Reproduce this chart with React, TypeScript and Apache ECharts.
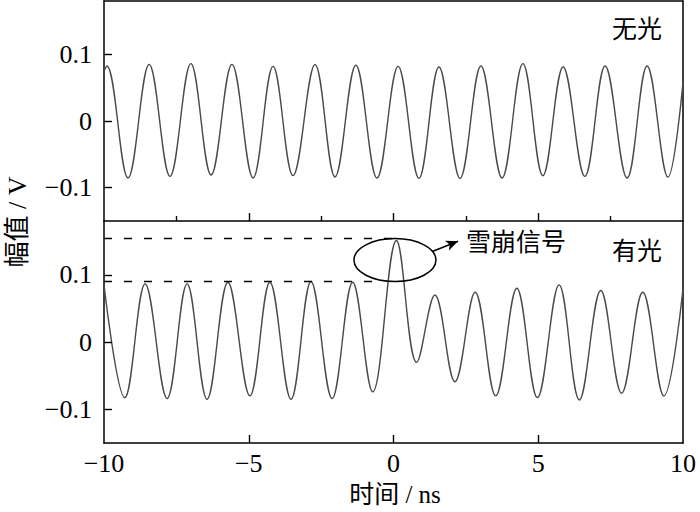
import React, { useEffect, useRef } from 'react';
import * as echarts from 'echarts';

// ---- data ----
const xTickValues = [-10, -5, 0, 5, 10];
const xMajorInner = [-5, 0, 5];
const xMinorInner = [-7.5, -2.5, 2.5, 7.5];
const yTickValues = [-0.1, 0, 0.1];

// 无光 panel: extrema of the waveform (time in ns, amplitude in V)
const topTimes = [-10, -9.9, -9.17, -8.44, -7.72, -7.0, -6.3, -5.58, -4.85, -4.16, -3.47, -2.71, -2.02, -1.3, -0.57, 0.16, 0.88, 1.57, 2.3, 3.02, 3.75, 4.47, 5.16, 5.86, 6.61, 7.31, 8.07, 8.76, 9.48, 10];
const topValues = [0.075, 0.0825, -0.0855, 0.085, -0.083, 0.086, -0.081, 0.085, -0.0855, 0.082, -0.082, 0.0846, -0.084, 0.0836, -0.0855, 0.082, -0.086, 0.081, -0.086, 0.0825, -0.0855, 0.086, -0.082, 0.081, -0.083, 0.0825, -0.0855, 0.0825, -0.084, 0.058];

// 有光 panel: extrema of the waveform, with the avalanche spike near 0 ns
const bottomTimes = [-10, -9.28, -8.58, -7.82, -7.13, -6.44, -5.72, -4.96, -4.27, -3.54, -2.85, -2.12, -1.41, -0.72, 0.1, 0.8, 1.43, 2.12, 2.82, 3.53, 4.26, 4.97, 5.72, 6.42, 7.16, 7.88, 8.61, 9.34, 10];
const bottomValues = [0.085, -0.0826, 0.0866, -0.084, 0.0866, -0.085, 0.089, -0.08, 0.089, -0.085, 0.09, -0.084, 0.089, -0.074, 0.151, -0.03, 0.07, -0.059, 0.074, -0.08, 0.08, -0.0826, 0.085, -0.086, 0.0766, -0.076, 0.074, -0.08, 0.079];

// annotation anchors (data coordinates)
const spikeLevel = 0.155;
const normalLevel = 0.09;
const upperDashEnd = 0.1;
const lowerDashEnd = -0.6;
const ellipseCenter = [0.05, 0.122];
const arrowFrom = [1.36, 0.135];
const arrowTo = [2.23, 0.15];

const xRange = [-10, 10];
const yRange = [-0.15, 0.18];

const SERIF = "'Liberation Serif', 'Noto Sans CJK SC', serif";
const CJK = "'Noto Sans CJK SC', sans-serif";

const fmt = (v: number) => (v < 0 ? '\u2212' + Math.abs(v) : String(v));

const MAJOR = 8;
const MINOR = 5;

export default function App() {
  const ref = useRef<HTMLDivElement>(null);

  useEffect(() => {
    const chart = echarts.init(ref.current!, null, { renderer: 'svg' });

    const topData = topTimes.map((t, i) => [t, topValues[i]]);
    const bottomData = bottomTimes.map((t, i) => [t, bottomValues[i]]);

    // tick marks as markLine pieces: start at the axis edge, end a few pixels inside
    const pxPerV = 222 / (yRange[1] - yRange[0]);
    const pxPerNs = 579 / (xRange[1] - xRange[0]);
    const xTick = (v: number, len: number) => [
      { coord: [v, yRange[0]] },
      { coord: [v, yRange[0] + len / pxPerV] },
    ];
    const yTick = (v: number) => [
      { coord: [xRange[0], v] },
      { coord: [xRange[0] + MAJOR / pxPerNs, v] },
    ];
    const ticksTop = [
      ...xMajorInner.map((v) => xTick(v, MAJOR)),
      ...xMinorInner.map((v) => xTick(v, MINOR)),
      ...yTickValues.map((v) => yTick(v)),
    ];
    const ticksBottom = [
      ...xMajorInner.map((v) => xTick(v, MAJOR)),
      ...yTickValues.map((v) => yTick(v)),
    ];
    const tickMarkLine = (data: any[]) => ({
      silent: true,
      symbol: ['none', 'none'],
      label: { show: false },
      emphasis: { disabled: true },
      lineStyle: { type: 'solid', color: '#000', width: 1.4 },
      data,
    });

    const lineStyle = { color: '#000', width: 1.5 };

    const yAxisBase = (gridIndex: number) => ({
      type: 'value',
      gridIndex,
      position: 'left',
      min: yRange[0],
      max: yRange[1],
      axisLine: { show: true, onZero: false, lineStyle },
      splitLine: { show: false },
      axisTick: { show: false },
      axisLabel: {
        show: true,
        customValues: yTickValues,
        formatter: fmt,
        fontSize: 26,
        fontFamily: SERIF,
        color: '#000',
        margin: 12,
      },
    });

    const frameY = (gridIndex: number) => ({
      type: 'value',
      gridIndex,
      position: 'right',
      min: yRange[0],
      max: yRange[1],
      axisLine: { show: true, onZero: false, lineStyle },
      axisTick: { show: false },
      axisLabel: { show: false },
      splitLine: { show: false },
    });

    const option: any = {
      animation: false,
      backgroundColor: '#fff',
      grid: [
        { left: 104, top: 1, width: 579, height: 220, show: false },
        { left: 104, top: 221, width: 579, height: 222, show: false },
      ],
      xAxis: [
        {
          type: 'value',
          gridIndex: 0,
          position: 'bottom',
          min: xRange[0],
          max: xRange[1],
          interval: 5,
          axisLine: { show: true, onZero: false, lineStyle },
          splitLine: { show: false },
          axisLabel: { show: false },
          axisTick: { show: false },
        },
        {
          type: 'value',
          gridIndex: 1,
          position: 'bottom',
          min: xRange[0],
          max: xRange[1],
          interval: 5,
          axisLine: { show: true, onZero: false, lineStyle },
          splitLine: { show: false },
          axisTick: { show: false },
          axisLabel: {
            show: true,
            customValues: xTickValues,
            formatter: fmt,
            fontSize: 26,
            fontFamily: SERIF,
            color: '#000',
            margin: 7,
          },
        },
        {
          type: 'value',
          gridIndex: 0,
          position: 'top',
          min: xRange[0],
          max: xRange[1],
          axisLine: { show: true, onZero: false, lineStyle },
          axisTick: { show: false },
          axisLabel: { show: false },
          splitLine: { show: false },
        },
      ],
      yAxis: [yAxisBase(0), yAxisBase(1), frameY(0), frameY(1)],
      series: [
        {
          type: 'line',
          xAxisIndex: 0,
          yAxisIndex: 0,
          data: topData,
          showSymbol: false,
          smooth: 0.38,
          lineStyle: { color: '#4a4a4a', width: 1.4 },
          silent: true,
          markLine: tickMarkLine(ticksTop),
        },
        {
          type: 'line',
          xAxisIndex: 1,
          yAxisIndex: 1,
          data: bottomData,
          showSymbol: false,
          smooth: 0.38,
          lineStyle: { color: '#4a4a4a', width: 1.4 },
          silent: true,
          markLine: {
            silent: true,
            symbol: ['none', 'none'],
            label: { show: false },
            emphasis: { disabled: true },
            data: [
              [
                { coord: [xRange[0], spikeLevel], lineStyle: { type: [8, 12], color: '#000', width: 1.3 } },
                { coord: [upperDashEnd, spikeLevel] },
              ],
              [
                { coord: [xRange[0], normalLevel], lineStyle: { type: [8, 12], color: '#000', width: 1.3 } },
                { coord: [lowerDashEnd, normalLevel] },
              ],
              [
                { coord: arrowFrom, symbol: 'none', lineStyle: { type: 'solid', color: '#000', width: 1.5 } },
                { coord: arrowTo, symbol: 'arrow', symbolSize: [8, 12] },
              ],
              ...ticksBottom.map((seg) => [
                { ...seg[0], lineStyle: { type: 'solid', color: '#000', width: 1.4 } },
                seg[1],
              ]),
            ],
          },
        },
        {
          type: 'custom',
          xAxisIndex: 1,
          yAxisIndex: 1,
          silent: true,
          data: [ellipseCenter],
          renderItem: (params: any, api: any) => {
            const p = api.coord([api.value(0), api.value(1)]);
            return {
              type: 'ellipse',
              shape: { cx: p[0], cy: p[1], rx: 41, ry: 21.5 },
              style: { fill: 'none', stroke: '#000', lineWidth: 1.5 },
            };
          },
          z: 5,
        },
      ],
      graphic: [
        {
          type: 'text',
          x: 17,
          y: 222,
          rotation: Math.PI / 2,
          style: { text: '幅值 / V', fontSize: 26, fontFamily: SERIF, fill: '#000', textAlign: 'center', textVerticalAlign: 'middle' },
        },
        {
          type: 'text',
          x: 395,
          y: 494,
          style: { text: '时间 / ns', fontSize: 25, fontFamily: SERIF, fill: '#000', textAlign: 'center', textVerticalAlign: 'middle' },
        },
        {
          type: 'text',
          x: 637,
          y: 27,
          style: { text: '无光', fontSize: 25, fontFamily: CJK, fill: '#000', textAlign: 'center', textVerticalAlign: 'middle' },
        },
        {
          type: 'text',
          x: 637,
          y: 249,
          style: { text: '有光', fontSize: 25, fontFamily: CJK, fill: '#000', textAlign: 'center', textVerticalAlign: 'middle' },
        },
        {
          type: 'text',
          x: 516,
          y: 240,
          style: { text: '雪崩信号', fontSize: 25, fontFamily: CJK, fill: '#000', textAlign: 'center', textVerticalAlign: 'middle' },
        },
      ],
    };

    chart.setOption(option);
    return () => chart.dispose();
  }, []);

  return <div ref={ref} style={{ position: 'fixed', left: 0, top: 0, width: 700, height: 512 }} />;
}
